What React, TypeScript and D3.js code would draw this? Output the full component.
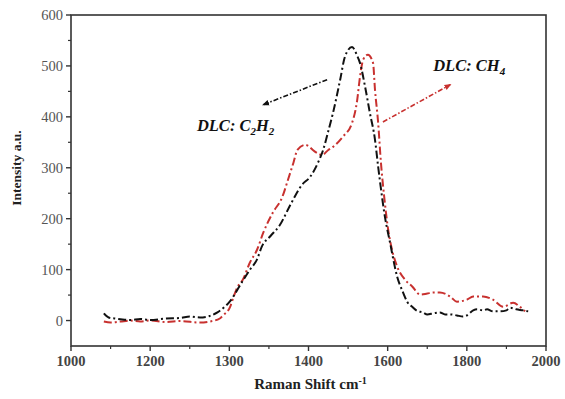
import React, { useEffect, useRef } from "react";
import * as d3 from "d3";

// tick labels as printed on the figure (evenly spaced, though not evenly valued)
const xTickValues = [1000, 1200, 1300, 1400, 1600, 1800, 2000];
const xMinorTicks = [1100, 1250, 1350, 1500, 1700, 1900];
const yTickValues = [0, 100, 200, 300, 400, 500, 600];
const yMinorTicks = [50, 150, 250, 350, 450, 550];

// DLC: C2H2 (black)
const c2h2Shift = [
  1083, 1095, 1110, 1130, 1150, 1175, 1200, 1220, 1238, 1250, 1263, 1275, 1285,
  1292, 1301, 1310, 1317, 1326, 1335, 1341, 1352, 1364, 1377, 1392, 1404, 1424,
  1437, 1450, 1462, 1480, 1492, 1510, 1523, 1530, 1543, 1555, 1568, 1576, 1581,
  1593, 1606, 1624, 1639, 1650, 1662, 1674, 1689, 1700, 1715, 1732, 1745, 1758,
  1775, 1790, 1800, 1816, 1826, 1841, 1851, 1866, 1884, 1900, 1909, 1925, 1942,
  1955,
];
const c2h2Intensity = [
  14, 6, 4, 2, 1, 3, 1, 4, 5, 8, 6, 9, 16, 24, 38, 60, 78, 100, 120, 145, 166,
  188, 227, 267, 282, 310, 335, 372, 408, 473, 518, 537, 520, 506, 459, 408,
  355, 302, 271, 204, 153, 86, 55, 36, 27, 19, 16, 12, 14, 16, 12, 12, 10, 8,
  10, 20, 22, 20, 22, 18, 18, 20, 25, 22, 20, 18,
];

// DLC: CH4 (red)
const ch4Shift = [
  1083, 1100, 1125, 1150, 1175, 1200, 1220, 1238, 1263, 1275, 1288, 1292, 1301,
  1305, 1310, 1317, 1326, 1335, 1343, 1355, 1367, 1374, 1381, 1386, 1396, 1404,
  1411, 1424, 1434, 1450, 1462, 1487, 1510, 1523, 1530, 1538, 1550, 1563, 1568,
  1576, 1583, 1591, 1601, 1611, 1624, 1644, 1662, 1682, 1700, 1715, 1732, 1758,
  1775, 1800, 1816, 1841, 1866, 1892, 1917, 1934, 1947,
];
const ch4Intensity = [
  -2, -4, -2, 0, -2, 0, -3, -1, -4, -2, 4, 10, 27, 45, 65, 80, 114, 139, 173,
  212, 243, 276, 310, 335, 345, 340, 335, 328, 325, 335, 341, 361, 388, 433,
  478, 512, 522, 506, 453, 388, 310, 245, 180, 139, 106, 80, 67, 51, 53, 55,
  55, 47, 37, 41, 47, 47, 41, 27, 35, 27, 18,
];

const App = () => {
  const svgRef = useRef(null);

  useEffect(() => {
    const width = 565;
    const height = 399;
    const left = 71;
    const right = 546;
    const top = 15;
    const bottom = 346;

    const svg = d3.select(svgRef.current);
    svg.selectAll("*").remove();
    svg.attr("width", width).attr("height", height);

    const step = (right - left) / (xTickValues.length - 1);
    const x = d3
      .scaleLinear()
      .domain(xTickValues)
      .range(xTickValues.map((_, i) => left + i * step));
    const y = d3.scaleLinear().domain([-50, 600]).range([bottom, top]);

    const serif = "'Liberation Serif', 'Times New Roman', serif";
    const axisColor = "#333";

    // markers for the arrows
    const defs = svg.append("defs");
    [
      { id: "arrowBlack", color: "#111" },
      { id: "arrowRed", color: "#c8312f" },
    ].forEach((m) => {
      defs
        .append("marker")
        .attr("id", m.id)
        .attr("viewBox", "0 0 10 10")
        .attr("refX", 8)
        .attr("refY", 5)
        .attr("markerWidth", 7)
        .attr("markerHeight", 7)
        .attr("markerUnits", "userSpaceOnUse")
        .attr("orient", "auto")
        .append("path")
        .attr("d", "M0,1 L10,5 L0,9 Z")
        .attr("fill", m.color);
    });

    // frame
    svg
      .append("rect")
      .attr("x", left)
      .attr("y", top)
      .attr("width", right - left)
      .attr("height", bottom - top)
      .attr("fill", "none")
      .attr("stroke", axisColor)
      .attr("stroke-width", 1.6);

    // x ticks
    const gx = svg.append("g");
    gx.selectAll(".major")
      .data(xTickValues)
      .join("line")
      .attr("x1", (d) => x(d))
      .attr("x2", (d) => x(d))
      .attr("y1", bottom)
      .attr("y2", bottom + 5)
      .attr("stroke", axisColor)
      .attr("stroke-width", 1.4);
    gx.selectAll(".minor")
      .data(xMinorTicks)
      .join("line")
      .attr("x1", (d) => x(d))
      .attr("x2", (d) => x(d))
      .attr("y1", bottom)
      .attr("y2", bottom + 3)
      .attr("stroke", axisColor)
      .attr("stroke-width", 1.2);
    gx.selectAll("text")
      .data(xTickValues)
      .join("text")
      .attr("x", (d) => x(d))
      .attr("y", bottom + 20)
      .attr("text-anchor", "middle")
      .style("font-family", serif)
      .style("font-size", "14.5px")
      .style("font-weight", "bold")
      .style("fill", "#444")
      .text((d) => d);

    // y ticks
    const gy = svg.append("g");
    gy.selectAll(".major")
      .data(yTickValues)
      .join("line")
      .attr("x1", left - 5)
      .attr("x2", left)
      .attr("y1", (d) => y(d))
      .attr("y2", (d) => y(d))
      .attr("stroke", axisColor)
      .attr("stroke-width", 1.4);
    gy.selectAll(".minor")
      .data(yMinorTicks)
      .join("line")
      .attr("x1", left - 3)
      .attr("x2", left)
      .attr("y1", (d) => y(d))
      .attr("y2", (d) => y(d))
      .attr("stroke", axisColor)
      .attr("stroke-width", 1.2);
    gy.selectAll("text")
      .data(yTickValues)
      .join("text")
      .attr("x", left - 8)
      .attr("y", (d) => y(d))
      .attr("dy", "0.35em")
      .attr("text-anchor", "end")
      .style("font-family", serif)
      .style("font-size", "14.5px")
      .style("fill", "#555")
      .text((d) => d);

    // axis titles
    const xTitle = svg
      .append("text")
      .attr("x", (left + right) / 2 + 2)
      .attr("y", 389)
      .attr("text-anchor", "middle")
      .style("font-family", serif)
      .style("font-size", "15px")
      .style("font-weight", "bold")
      .style("fill", "#222");
    xTitle.append("tspan").text("Raman Shift cm");
    xTitle
      .append("tspan")
      .attr("dy", -5)
      .style("font-size", "10px")
      .text("-1");

    svg
      .append("text")
      .attr("transform", `translate(21, 168) rotate(-90)`)
      .attr("text-anchor", "middle")
      .style("font-family", serif)
      .style("font-size", "13.5px")
      .style("font-weight", "bold")
      .style("fill", "#222")
      .text("Intensity a.u.");

    // spectra
    const line = d3
      .line<[number, number]>()
      .x((d) => x(d[0]))
      .y((d) => y(d[1]))
      .curve(d3.curveMonotoneX);

    const series = [
      {
        pts: ch4Shift.map((s, i) => [s, ch4Intensity[i]] as [number, number]),
        color: "#c8312f",
      },
      {
        pts: c2h2Shift.map((s, i) => [s, c2h2Intensity[i]] as [number, number]),
        color: "#111",
      },
    ];
    series.forEach((s) => {
      svg
        .append("path")
        .attr("d", line(s.pts))
        .attr("fill", "none")
        .attr("stroke", s.color)
        .attr("stroke-width", 2)
        .attr("stroke-dasharray", "8 3 2 3");
    });

    // annotation arrows
    svg
      .append("line")
      .attr("x1", x(1447))
      .attr("y1", y(473))
      .attr("x2", x(1343))
      .attr("y2", y(424))
      .attr("stroke", "#111")
      .attr("stroke-width", 1.6)
      .attr("stroke-dasharray", "5 2 1.5 2")
      .attr("marker-end", "url(#arrowBlack)");
    svg
      .append("line")
      .attr("x1", x(1588))
      .attr("y1", y(390))
      .attr("x2", x(1758))
      .attr("y2", y(463))
      .attr("stroke", "#c8312f")
      .attr("stroke-width", 1.6)
      .attr("stroke-dasharray", "5 2 1.5 2")
      .attr("marker-end", "url(#arrowRed)");

    const label = (px, py, main, sub1, mid, sub2) => {
      const t = svg
        .append("text")
        .attr("x", px)
        .attr("y", py)
        .style("font-family", serif)
        .style("font-size", "16.5px")
        .style("font-weight", "bold")
        .style("font-style", "italic")
        .style("fill", "#111");
      t.append("tspan").text(main);
      t.append("tspan").attr("dy", 4).style("font-size", "11px").text(sub1);
      if (mid) {
        t.append("tspan").attr("dy", -4).text(mid);
        t.append("tspan").attr("dy", 4).style("font-size", "11px").text(sub2);
      }
    };
    label(x(1259), y(373), "DLC: C", "2", "H", "2");
    label(x(1715), y(490), "DLC: CH", "4", null, null);
  }, []);

  return (
    <div style={{ position: "absolute", left: 0, top: 0 }}>
      <svg ref={svgRef}></svg>
    </div>
  );
};

export default App;
